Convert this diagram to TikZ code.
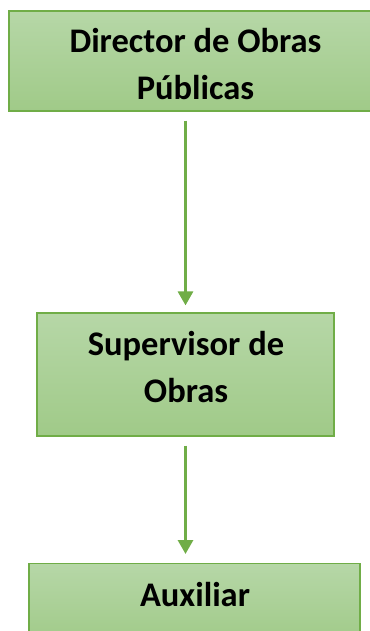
\documentclass[tikz,border=0pt]{standalone}
\usepackage{fontspec}
\setmainfont{Carlito}
\usetikzlibrary{arrows.meta}
\definecolor{gtop}{RGB}{182,215,167}
\definecolor{gbot}{RGB}{160,202,136}
\definecolor{gline}{RGB}{112,173,71}
\tikzset{
  orgbox/.style={draw=gline, line width=1.2pt, top color=gtop, bottom color=gbot, inner sep=0pt},
  label/.style={align=center, font=\fontsize{34.5}{47}\selectfont\bfseries, inner sep=0pt, anchor=base},
  link/.style={draw=gline, line width=3pt, -{Triangle[length=14pt,width=15pt]}}
}
\begin{document}
\begin{tikzpicture}[x=1pt,y=-1pt]
\useasboundingbox (0,0) rectangle (369,631);
\node[orgbox, minimum width=381pt, minimum height=100pt] (dir) at (199.5,61) {};
\node[orgbox, minimum width=297pt, minimum height=123pt] (sup) at (185.5,374.5) {};
\node[orgbox, minimum width=331pt, minimum height=80pt, anchor=north] (aux) at (194.5,563) {};
\node[label] (dir1) at (195.5,53) {Director de Obras};
\node[label] (dir2) at (195.5,100) {Públicas};
\node[label] (sup1) at (186,355) {Supervisor de};
\node[label] (sup2) at (186,402) {Obras};
\node[label] (auxt) at (195,606) {Auxiliar};
\draw[link, shorten <=9pt, shorten >=7pt] (dir.south -| sup.center) -- (sup.north);
\draw[link, shorten <=9pt, shorten >=9pt] (sup.south) -- (sup.south |- aux.north);
\end{tikzpicture}
\end{document}
